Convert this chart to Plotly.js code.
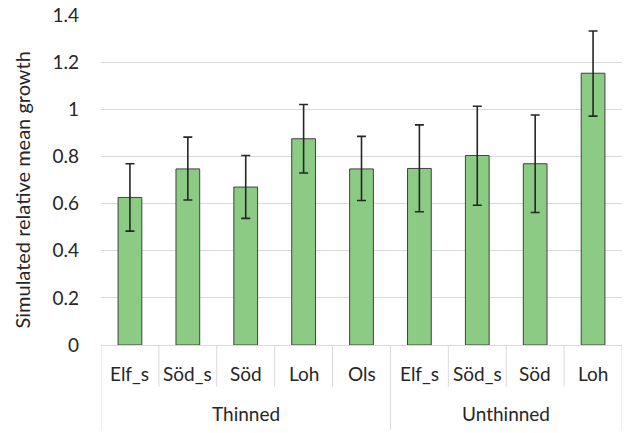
<!DOCTYPE html>
<html>
<head>
<meta charset="utf-8">
<script src="https://cdn.plot.ly/plotly-3.0.1.min.js"></script>
<style>html,body{margin:0;padding:0;background:#fff;}#chart{width:625px;height:433px;}</style>
</head>
<body>
<div id="chart"></div>
<script>
const groups = ["Thinned","Thinned","Thinned","Thinned","Thinned","Unthinned","Unthinned","Unthinned","Unthinned"];
const sites = ["Elf_s","Söd_s","Söd","Loh","Ols","Elf_s","Söd_s","Söd","Loh"];
const means = [0.626, 0.747, 0.670, 0.875, 0.747, 0.749, 0.804, 0.769, 1.153];
const errUpper = [0.769, 0.882, 0.804, 1.020, 0.885, 0.934, 1.013, 0.976, 1.332];
const errLower = [0.483, 0.615, 0.537, 0.730, 0.613, 0.565, 0.593, 0.562, 0.971];
const yTitle = "Simulated relative mean growth";

const idx = sites.map((_, i) => i);
const plus = means.map((m, i) => +(errUpper[i] - m).toFixed(3));
const minus = means.map((m, i) => +(m - errLower[i]).toFixed(3));

const font = "Lato, 'Open Sans', sans-serif";
const txtColor = "#262626";
const gridC = "#d9d9d9";
const fs = 19;

// plot area: y paper 0 at 345px, 1 at 15px  (330px tall)
const pyToPaper = py => (345 - py) / 330;

const annotations = [];
sites.forEach((s, i) => {
  annotations.push({x: i, y: pyToPaper(373), xref: "x", yref: "paper", text: s, showarrow: false,
    xanchor: "center", yanchor: "middle", font: {family: font, size: fs, color: txtColor}});
});
const groupNames = [...new Set(groups)];
const groupBounds = [];
groupNames.forEach(g => {
  const ids = idx.filter(i => groups[i] === g);
  const lo = Math.min(...ids), hi = Math.max(...ids);
  groupBounds.push([lo - 0.5, hi + 0.5]);
  annotations.push({x: (lo + hi) / 2, y: pyToPaper(414), xref: "x", yref: "paper", text: g, showarrow: false,
    xanchor: "center", yanchor: "middle", font: {family: font, size: fs, color: txtColor}});
});
annotations.push({x: -0.1516, y: pyToPaper(190.5), xref: "paper", yref: "paper", text: yTitle, textangle: -90,
  showarrow: false, xanchor: "center", yanchor: "middle", font: {family: font, size: 20, color: txtColor}});

const shapes = [];
const groupEdges = new Set();
groupBounds.forEach(b => { groupEdges.add(b[0]); groupEdges.add(b[1]); });
for (let i = 0; i <= sites.length; i++) {
  const xb = i - 0.5;
  const isGroup = groupEdges.has(xb);
  shapes.push({type: "line", xref: "x", yref: "paper", x0: xb, x1: xb, y0: 0, y1: pyToPaper(isGroup ? 430 : 387),
    line: {color: gridC, width: 1}});
}

Plotly.newPlot("chart", [{
  type: "bar",
  x: idx,
  y: means,
  marker: {color: "#8ccb84", line: {color: "#404040", width: 1}},
  error_y: {type: "data", symmetric: false, array: plus, arrayminus: minus, color: "#262626", thickness: 1.6, width: 4.5},
  hoverinfo: "skip"
}], {
  width: 625, height: 433,
  margin: {l: 101, r: 3, t: 15, b: 88},
  paper_bgcolor: "#fff", plot_bgcolor: "#fff",
  bargap: 0.59,
  showlegend: false,
  font: {family: font, size: fs, color: txtColor},
  xaxis: {
    range: [-0.5, sites.length - 0.5],
    showline: true, linecolor: gridC, linewidth: 1,
    showticklabels: false, ticks: "", showgrid: false, zeroline: false
  },
  yaxis: {
    range: [0, 1.4], dtick: 0.2, tick0: 0,
    showgrid: true, gridcolor: gridC, gridwidth: 1,
    zeroline: false, showline: false, ticks: "",
    ticklabelstandoff: 21,
    tickfont: {family: font, size: fs, color: txtColor},
    tickformat: "~g"
  },
  annotations: annotations,
  shapes: shapes
}, {staticPlot: true, displayModeBar: false});
</script>
</body>
</html>
